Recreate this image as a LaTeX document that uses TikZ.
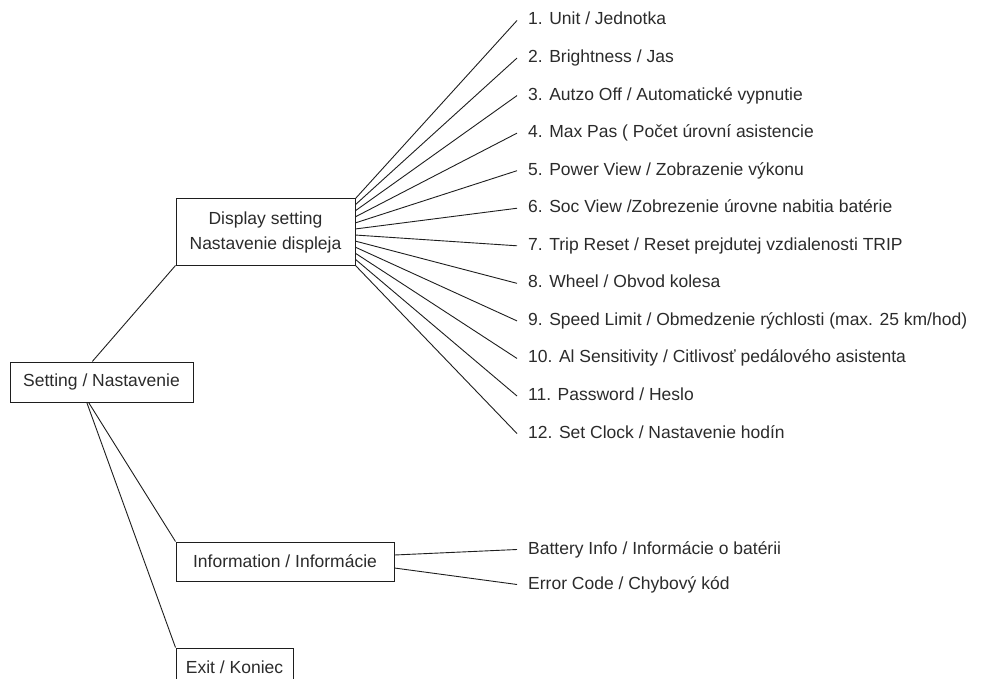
\documentclass[tikz,border=0pt]{standalone}
\usepackage{fontspec}
\setmainfont{Liberation Sans}
\usetikzlibrary{calc}
\definecolor{tc}{HTML}{2B2B2B}
\definecolor{lc}{HTML}{1E1E1E}
\begin{document}
\begin{tikzpicture}[x=1pt,y=-1pt,
  box/.style={draw=lc, line width=1pt, text=tc, inner sep=0pt, align=center, font=\fontsize{17.5}{25}\selectfont},
  item/.style={anchor=west, inner xsep=11pt, inner ysep=0pt, text height=13.5pt, text depth=4.5pt, text=tc, font=\fontsize{17.5}{25}\selectfont},
  link/.style={draw=lc, line width=0.9pt}]
\useasboundingbox (0,0) rectangle (988,679);
\node[box, minimum width=183pt, minimum height=40pt] (set) at (101.5,382) {Setting / Nastavenie};
\node[box, minimum width=179pt, minimum height=66pt] (disp) at (265.5,232) {Display setting\\Nastavenie displeja};
\node[box, minimum width=218pt, minimum height=39pt] (info) at (285,561.5) {Information / Informácie};
\node[box, minimum width=117pt, minimum height=39pt] (exit) at (234.5,667.5) {Exit / Koniec};

\node[item] (l1) at (517,20.5) {1. Unit / Jednotka};
\node[item] (l2) at (517,58.05) {2. Brightness / Jas};
\node[item] (l3) at (517,95.6) {3. Autzo Off / Automatické vypnutie};
\node[item] (l4) at (517,133.15) {4. Max Pas ( Počet úrovní asistencie};
\node[item] (l5) at (517,170.7) {5. Power View / Zobrazenie výkonu};
\node[item] (l6) at (517,208.25) {6. Soc View /Zobrezenie úrovne nabitia batérie};
\node[item] (l7) at (517,245.8) {7. Trip Reset / Reset prejdutej vzdialenosti TRIP};
\node[item] (l8) at (517,283.35) {8. Wheel / Obvod kolesa};
\node[item] (l9) at (517,320.9) {9. Speed Limit / Obmedzenie rýchlosti (max. 25 km/hod)};
\node[item] (l10) at (517,358.45) {10. Al Sensitivity / Citlivosť pedálového asistenta};
\node[item] (l11) at (517,396) {11. Password / Heslo};
\node[item] (l12) at (517,433.55) {12. Set Clock / Nastavenie hodín};

\node[item] (bat) at (517,549.5) {Battery Info / Informácie o batérii};
\node[item] (err) at (517,584.5) {Error Code / Chybový kód};

\foreach \i in {1,...,12}{
  \draw[link] ($(disp.north east)!{(\i-1)/11}!(disp.south east)$) -- (l\i.west);
}
\draw[link] ($(set.north west)!0.45!(set.north east)$) -- (disp.south west);
\draw[link] ($(set.south west)!0.43!(set.south east)$) -- (info.north west);
\draw[link] ($(set.south west)!0.42!(set.south east)$) -- (exit.north west);
\draw[link] ($(info.east)+(0,-6.5)$) -- (bat.west);
\draw[link] ($(info.east)+(0,6.5)$) -- (err.west);
\end{tikzpicture}
\end{document}
